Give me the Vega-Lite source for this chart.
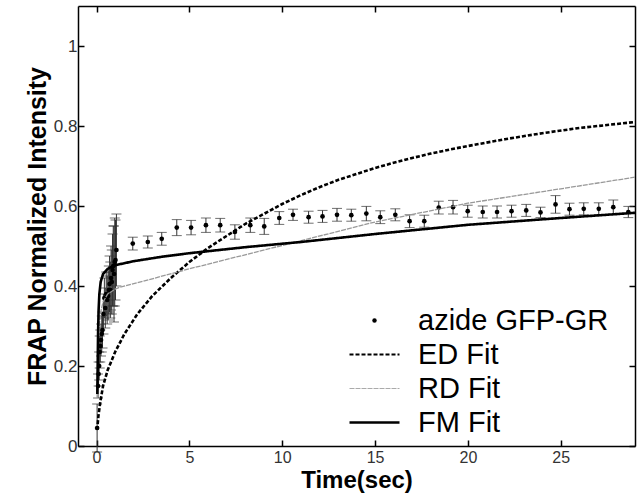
{
  "$schema": "https://vega.github.io/schema/vega-lite/v6.json",
  "width": 557,
  "height": 440,
  "autosize": {"type": "none"},
  "padding": {"left": 78, "top": 6, "right": 2, "bottom": 53},
  "background": "white",
  "datasets": {
    "pts": [
      {"t": 0.03, "y": 0.045, "e": 0.06},
      {"t": 0.08, "y": 0.15, "e": 0.03},
      {"t": 0.11, "y": 0.18, "e": 0.03},
      {"t": 0.14, "y": 0.2, "e": 0.035},
      {"t": 0.17, "y": 0.235, "e": 0.04},
      {"t": 0.2, "y": 0.25, "e": 0.04},
      {"t": 0.24, "y": 0.265, "e": 0.04},
      {"t": 0.28, "y": 0.28, "e": 0.045},
      {"t": 0.32, "y": 0.29, "e": 0.045},
      {"t": 0.37, "y": 0.33, "e": 0.05},
      {"t": 0.42, "y": 0.37, "e": 0.05},
      {"t": 0.47, "y": 0.345, "e": 0.05},
      {"t": 0.52, "y": 0.38, "e": 0.055},
      {"t": 0.57, "y": 0.365, "e": 0.06},
      {"t": 0.62, "y": 0.375, "e": 0.06},
      {"t": 0.66, "y": 0.39, "e": 0.06},
      {"t": 0.7, "y": 0.405, "e": 0.07},
      {"t": 0.74, "y": 0.39, "e": 0.07},
      {"t": 0.78, "y": 0.42, "e": 0.08},
      {"t": 0.82, "y": 0.41, "e": 0.08},
      {"t": 0.86, "y": 0.44, "e": 0.09},
      {"t": 0.9, "y": 0.45, "e": 0.1},
      {"t": 0.94, "y": 0.43, "e": 0.12},
      {"t": 0.98, "y": 0.46, "e": 0.11},
      {"t": 1.02, "y": 0.465, "e": 0.1},
      {"t": 1.07, "y": 0.49, "e": 0.09},
      {"t": 1.95, "y": 0.506, "e": 0.016},
      {"t": 2.76, "y": 0.51, "e": 0.015},
      {"t": 3.51, "y": 0.518, "e": 0.016},
      {"t": 4.32, "y": 0.546, "e": 0.02},
      {"t": 5.09, "y": 0.546, "e": 0.018},
      {"t": 5.89, "y": 0.552, "e": 0.018},
      {"t": 6.66, "y": 0.552, "e": 0.017},
      {"t": 7.45, "y": 0.535, "e": 0.018},
      {"t": 8.28, "y": 0.552, "e": 0.018},
      {"t": 9.03, "y": 0.549, "e": 0.02},
      {"t": 9.84, "y": 0.57, "e": 0.016},
      {"t": 10.58, "y": 0.578, "e": 0.014},
      {"t": 11.42, "y": 0.572, "e": 0.015},
      {"t": 12.17, "y": 0.574, "e": 0.015},
      {"t": 12.95, "y": 0.578, "e": 0.016},
      {"t": 13.72, "y": 0.577, "e": 0.015},
      {"t": 14.53, "y": 0.581, "e": 0.018},
      {"t": 15.28, "y": 0.572, "e": 0.016},
      {"t": 16.09, "y": 0.578, "e": 0.015},
      {"t": 16.86, "y": 0.562, "e": 0.016},
      {"t": 17.65, "y": 0.562, "e": 0.015},
      {"t": 18.43, "y": 0.596, "e": 0.016},
      {"t": 19.2, "y": 0.597, "e": 0.017},
      {"t": 19.99, "y": 0.587, "e": 0.015},
      {"t": 20.8, "y": 0.585, "e": 0.015},
      {"t": 21.57, "y": 0.585, "e": 0.015},
      {"t": 22.35, "y": 0.587, "e": 0.015},
      {"t": 23.14, "y": 0.589, "e": 0.015},
      {"t": 23.91, "y": 0.584, "e": 0.013},
      {"t": 24.72, "y": 0.604, "e": 0.022},
      {"t": 25.47, "y": 0.592, "e": 0.015},
      {"t": 26.24, "y": 0.593, "e": 0.015},
      {"t": 27.05, "y": 0.593, "e": 0.015},
      {"t": 27.83, "y": 0.597, "e": 0.018},
      {"t": 28.64, "y": 0.585, "e": 0.014}
    ],
    "fits": [
      {"series": "ED Fit", "t": 0.03, "y": 0.04},
      {"series": "ED Fit", "t": 0.1, "y": 0.075},
      {"series": "ED Fit", "t": 0.2, "y": 0.11},
      {"series": "ED Fit", "t": 0.35, "y": 0.15},
      {"series": "ED Fit", "t": 0.6, "y": 0.19},
      {"series": "ED Fit", "t": 1.0, "y": 0.235},
      {"series": "ED Fit", "t": 1.5, "y": 0.28},
      {"series": "ED Fit", "t": 2.2, "y": 0.33},
      {"series": "ED Fit", "t": 3.0, "y": 0.375},
      {"series": "ED Fit", "t": 4.0, "y": 0.42},
      {"series": "ED Fit", "t": 5.0, "y": 0.46},
      {"series": "ED Fit", "t": 6.0, "y": 0.495},
      {"series": "ED Fit", "t": 7.0, "y": 0.525},
      {"series": "ED Fit", "t": 8.0, "y": 0.555},
      {"series": "ED Fit", "t": 9.0, "y": 0.58},
      {"series": "ED Fit", "t": 10.0, "y": 0.605},
      {"series": "ED Fit", "t": 11.0, "y": 0.627},
      {"series": "ED Fit", "t": 12.0, "y": 0.647},
      {"series": "ED Fit", "t": 13.0, "y": 0.665},
      {"series": "ED Fit", "t": 14.0, "y": 0.68},
      {"series": "ED Fit", "t": 15.0, "y": 0.695},
      {"series": "ED Fit", "t": 16.0, "y": 0.708},
      {"series": "ED Fit", "t": 17.0, "y": 0.72},
      {"series": "ED Fit", "t": 18.0, "y": 0.731},
      {"series": "ED Fit", "t": 19.0, "y": 0.741},
      {"series": "ED Fit", "t": 20.0, "y": 0.75},
      {"series": "ED Fit", "t": 22.0, "y": 0.767},
      {"series": "ED Fit", "t": 24.0, "y": 0.782},
      {"series": "ED Fit", "t": 26.0, "y": 0.795},
      {"series": "ED Fit", "t": 28.0, "y": 0.805},
      {"series": "ED Fit", "t": 29.0, "y": 0.81},
      {"series": "RD Fit", "t": 0.03, "y": 0.12},
      {"series": "RD Fit", "t": 0.06, "y": 0.2},
      {"series": "RD Fit", "t": 0.1, "y": 0.27},
      {"series": "RD Fit", "t": 0.2, "y": 0.33},
      {"series": "RD Fit", "t": 0.35, "y": 0.36},
      {"series": "RD Fit", "t": 0.6, "y": 0.38},
      {"series": "RD Fit", "t": 1.0, "y": 0.392},
      {"series": "RD Fit", "t": 1.2, "y": 0.396},
      {"series": "RD Fit", "t": 3.0, "y": 0.418},
      {"series": "RD Fit", "t": 5.0, "y": 0.443},
      {"series": "RD Fit", "t": 8.0, "y": 0.478},
      {"series": "RD Fit", "t": 10.4, "y": 0.506},
      {"series": "RD Fit", "t": 15.0, "y": 0.56},
      {"series": "RD Fit", "t": 20.0, "y": 0.607},
      {"series": "RD Fit", "t": 25.0, "y": 0.643},
      {"series": "RD Fit", "t": 29.0, "y": 0.672},
      {"series": "FM Fit", "t": 0.04, "y": 0.13},
      {"series": "FM Fit", "t": 0.06, "y": 0.2},
      {"series": "FM Fit", "t": 0.08, "y": 0.28},
      {"series": "FM Fit", "t": 0.11, "y": 0.34},
      {"series": "FM Fit", "t": 0.15, "y": 0.38},
      {"series": "FM Fit", "t": 0.22, "y": 0.41},
      {"series": "FM Fit", "t": 0.35, "y": 0.43},
      {"series": "FM Fit", "t": 0.6, "y": 0.443},
      {"series": "FM Fit", "t": 1.0, "y": 0.452},
      {"series": "FM Fit", "t": 2.0, "y": 0.462},
      {"series": "FM Fit", "t": 3.5, "y": 0.473},
      {"series": "FM Fit", "t": 5.0, "y": 0.482},
      {"series": "FM Fit", "t": 8.0, "y": 0.497},
      {"series": "FM Fit", "t": 11.0, "y": 0.51},
      {"series": "FM Fit", "t": 15.0, "y": 0.53},
      {"series": "FM Fit", "t": 20.0, "y": 0.553},
      {"series": "FM Fit", "t": 25.0, "y": 0.57},
      {"series": "FM Fit", "t": 29.0, "y": 0.583}
    ]
  },
  "resolve": {"axis": {"x": "independent", "y": "independent"}},
  "layer": [
    {
      "data": {"name": "pts"},
      "mark": {"type": "errorbar", "ticks": {"size": 10}, "color": "#333", "thickness": 1},
      "encoding": {
        "x": {
          "field": "t", "type": "quantitative",
          "scale": {"domain": [-1, 29], "nice": false, "zero": false},
          "axis": {"title": "Time(sec)", "values": [0, 5, 10, 15, 20, 25], "labelPadding": 9, "labelFontSize": 16, "titlePadding": 3, "titleFontSize": 24}
        },
        "y": {
          "field": "y", "type": "quantitative",
          "scale": {"domain": [0, 1.1], "nice": false},
          "axis": {"title": "FRAP Normalized Intensity", "values": [0, 0.2, 0.4, 0.6, 0.8, 1], "format": ".1~f", "labelPadding": 7, "titlePadding": 3}
        },
        "yError": {"field": "e"}
      }
    },
    {
      "data": {"name": "pts"},
      "mark": {"type": "point", "filled": true, "size": 22, "color": "black", "opacity": 1},
      "encoding": {
        "x": {"field": "t", "type": "quantitative", "axis": {"orient": "top", "labels": false, "title": null, "values": [0, 5, 10, 15, 20, 25]}},
        "y": {"field": "y", "type": "quantitative", "axis": {"orient": "right", "labels": false, "title": null, "values": [0, 0.2, 0.4, 0.6, 0.8, 1]}}
      }
    },
    {
      "data": {"name": "fits"},
      "transform": [{"filter": "datum.series === 'ED Fit'"}],
      "mark": {"type": "line", "color": "black", "strokeWidth": 2.6},
      "encoding": {
        "x": {"field": "t", "type": "quantitative", "axis": null},
        "y": {"field": "y", "type": "quantitative", "axis": null},
        "strokeDash": {
          "field": "series", "type": "nominal",
          "scale": {"domain": ["azide GFP-GR", "ED Fit", "RD Fit", "FM Fit"], "range": [[1, 0], [4, 2], [5, 1], [1, 0]]},
          "legend": {
            "orient": "none", "legendX": 282, "legendY": 300, "title": null, "padding": 0,
            "symbolType": "stroke", "symbolSize": 2500, "labelFontSize": 29, "labelFont": "Liberation Sans",
            "labelColor": "black", "labelOffset": 29, "labelLimit": 0, "rowPadding": 4, "symbolStrokeColor": "black",
            "encode": {"symbols": {"update": {
              "shape": {"signal": "datum.value === 'azide GFP-GR' ? 'circle' : 'stroke'"},
              "size": {"signal": "datum.value === 'azide GFP-GR' ? 20 : 2500"},
              "fill": {"signal": "datum.value === 'azide GFP-GR' ? 'black' : 'transparent'"},
              "stroke": {"signal": "datum.value === 'azide GFP-GR' ? 'transparent' : (datum.value === 'RD Fit' ? '#aaa' : 'black')"},
              "strokeWidth": {"signal": "datum.value === 'FM Fit' ? 2.5 : (datum.value === 'RD Fit' ? 1 : 2)"}
            }}}
          }
        }
      }
    },
    {
      "data": {"name": "fits"},
      "transform": [{"filter": "datum.series === 'RD Fit'"}],
      "mark": {"type": "line", "color": "#999", "strokeWidth": 1.3},
      "encoding": {
        "x": {"field": "t", "type": "quantitative", "axis": null},
        "y": {"field": "y", "type": "quantitative", "axis": null},
        "strokeDash": {"field": "series", "type": "nominal"}
      }
    },
    {
      "data": {"name": "fits"},
      "transform": [{"filter": "datum.series === 'FM Fit'"}],
      "mark": {"type": "line", "color": "black", "strokeWidth": 2.6},
      "encoding": {
        "x": {"field": "t", "type": "quantitative", "axis": null},
        "y": {"field": "y", "type": "quantitative", "axis": null},
        "strokeDash": {"field": "series", "type": "nominal"}
      }
    },
    {
      "mark": {"type": "text", "text": "B", "font": "Liberation Sans", "fontSize": 30, "fontWeight": "bold", "align": "left", "baseline": "alphabetic", "color": "black"},
      "encoding": {
        "x": {"datum": 0.3, "type": "quantitative", "axis": null},
        "y": {"datum": 0.982, "type": "quantitative", "axis": null}
      }
    }
  ],
  "config": {
    "font": "Liberation Sans",
    "view": {"stroke": null},
    "axis": {
      "domainColor": "black", "domainWidth": 1.5, "tickColor": "black", "tickWidth": 1.5, "tickSize": -6,
      "labelFont": "Liberation Sans", "labelFontSize": 17, "labelColor": "#333",
      "titleFont": "Liberation Sans", "titleFontSize": 25, "titleFontWeight": "bold", "titleColor": "black",
      "grid": false
    }
  }
}
